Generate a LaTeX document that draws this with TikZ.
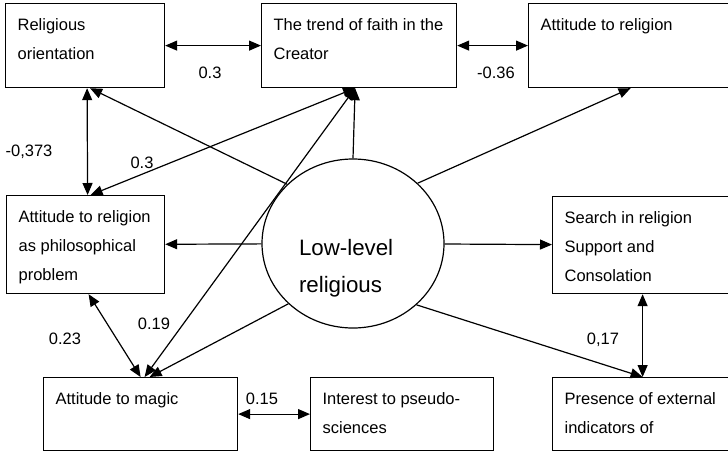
\documentclass[tikz,border=0pt]{standalone}
\usepackage{fontspec}
\setmainfont{Liberation Sans}
\usetikzlibrary{arrows.meta,shapes.geometric}
\def\bt#1#2#3{\parbox[c][#2][t]{#1}{\leftskip=12pt\strut #3}}
\tikzset{
    box/.style={draw,line width=1.2pt,anchor=north west,inner xsep=0pt,inner ysep=7pt,
                font=\fontsize{16.5}{28.8}\selectfont},
    lbl/.style={anchor=base,inner sep=0pt,font=\fontsize{16.5}{20}\selectfont},
    con/.style={line width=1.2pt,-{Triangle[length=12pt,width=10pt]}},
    cor/.style={line width=1.2pt,{Triangle[length=12pt,width=10pt]}-{Triangle[length=12pt,width=10pt]}}
}
\begin{document}
\begin{tikzpicture}[x=1pt,y=-1pt]
                \useasboundingbox (0,0) rectangle (728,453);
                \clip (0,0) rectangle (728,453);
                \node[box] (relor)  at (5,3)     {\bt{159pt}{70pt}{Religious\\orientation}};
                \node[box] (trend)  at (261,3)   {\bt{195pt}{70pt}{The trend of faith in the\\Creator}};
                \node[box] (attrel) at (528,3)   {\bt{204pt}{70pt}{Attitude to religion}};
                \node[box] (philo)  at (6,195)   {\bt{158pt}{84pt}{Attitude to religion\\as philosophical\\problem}};
                \node[box] (search) at (552,196) {\bt{180pt}{83pt}{Search in religion\\Support and\\Consolation}};
                \node[box] (magic)  at (43,377)  {\bt{194pt}{59pt}{Attitude to magic}};
                \node[box] (pseudo) at (310,377) {\bt{183pt}{59pt}{Interest to pseudo-\\sciences}};
                \node[box] (extern) at (552,377) {\bt{180pt}{59pt}{Presence of external\\indicators of}};
                \node[ellipse,draw,line width=1.2pt,minimum width=182pt,minimum height=169pt,inner sep=0pt,
                      text height=23pt,text depth=0pt,font=\fontsize{22.3}{37}\selectfont]
                      (low) at (353,243.5) {\parbox[t]{108pt}{Low-level\\religious}};
                % correlations
                \draw[cor] (relor) -- (trend);
                \draw[cor] (trend) -- (attrel);
                \draw[cor] ([xshift=2pt]relor.south) -- ([xshift=2pt]philo.north);
                \draw[cor] ([xshift=-4pt]trend.south) -- ([xshift=5pt]philo.north);
                \draw[cor] ([xshift=-4pt]trend.south) -- ([xshift=4pt]magic.north);
                \draw[cor] ([xshift=3pt]philo.south) -- (magic.north);
                \draw[cor] (magic) -- (pseudo);
                \draw[cor] (search.south) -- (extern.north);
                % loadings
                \draw[con] (low.138) -- ([xshift=5pt]relor.south);
                \draw[con] (low.north) -- ([xshift=-4pt]trend.south);
                \draw[con] (low.43) -- (attrel.south);
                \draw[con] (low) -- (philo);
                \draw[con] (low) -- (search);
                \draw[con] (low.223) -- ([xshift=9pt]magic.north);
                \draw[con] (low.-44) -- (extern.north);
                \node[lbl] (r1) at (210,78)  {0.3};
                \node[lbl] (r2) at (496,78)  {-0.36};
                \node[lbl] (r3) at (29,156)  {-0,373};
                \node[lbl] (r4) at (142,168) {0.3};
                \node[lbl] (r5) at (154,329) {0.19};
                \node[lbl] (r6) at (65,344)  {0.23};
                \node[lbl] (r7) at (262,404) {0.15};
                \node[lbl] (r8) at (603,344) {0,17};
            \end{tikzpicture}
\end{document}
